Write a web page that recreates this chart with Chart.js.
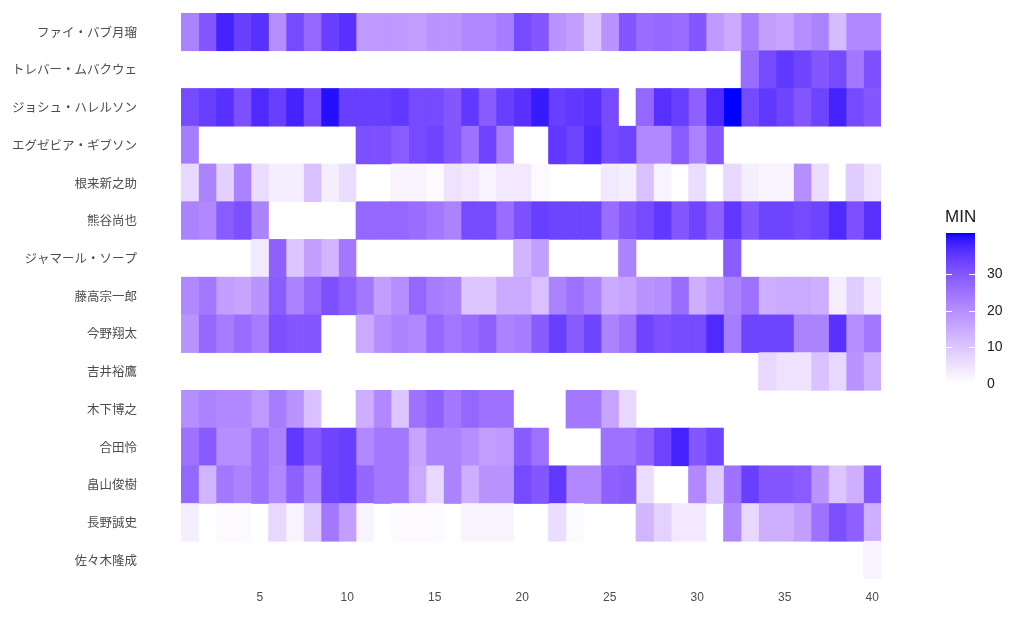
<!DOCTYPE html>
<html lang="ja">
<head>
<meta charset="utf-8">
<title>MIN heatmap</title>
<script src="https://cdn.jsdelivr.net/npm/chart.js@4.4.1/dist/chart.umd.min.js"></script>
<style>
  html, body { margin: 0; padding: 0; background: #fff; }
  #heat { display: block; }
</style>
</head>
<body>
<canvas id="heat" width="1024" height="640"></canvas>
<script>
const _ = null; // did not play

const players = [
  "ファイ・バブ月瑠", "トレバー・ムバクウェ", "ジョシュ・ハレルソン", "エグゼビア・ギブソン",
  "根来新之助", "熊谷尚也", "ジャマール・ソープ", "藤高宗一郎", "今野翔太", "吉井裕鷹",
  "木下博之", "合田怜", "畠山俊樹", "長野誠史", "佐々木隆成"
];

const games = [1, 2, 3, 4, 5, 6, 7, 8, 9, 10, 11, 12, 13, 14, 15, 16, 17, 18, 19, 20,
  21, 22, 23, 24, 25, 26, 27, 28, 29, 30, 31, 32, 33, 34, 35, 36, 37, 38, 39, 40];

const xTicks = [5, 10, 15, 20, 25, 30, 35, 40];
const legendTicks = [0, 10, 20, 30];

// minutes per game, one array per player
const fab = [22, 30, 38, 34, 36, 20, 32, 27, 34, 36, 18, 18, 18, 17, 19, 19, 21, 21, 23, 32,
  30, 19, 17, 10, 19, 30, 26, 27, 26, 30, 18, 15, 23, 17, 16, 20, 22, 12, 21, 21];
const trevor = [_, _, _, _, _, _, _, _, _, _, _, _, _, _, _, _, _, _, _, _,
  _, _, _, _, _, _, _, _, _, _, _, _, 26, 32, 35, 33, 30, 32, 24, 31];
const josh = [32, 34, 36, 31, 37, 34, 38, 32, 40, 34, 34, 34, 35, 32, 32, 30, 35, 29, 34, 36,
  39, 34, 35, 36, 32, _, 27, 36, 34, 28, 37, 41, 32, 35, 33, 30, 33, 38, 32, 30];
const xavier = [23, _, _, _, _, _, _, _, _, _, 31, 31, 29, 32, 33, 30, 25, 33, 23, _,
  _, 35, 33, 37, 32, 33, 21, 21, 29, 22, 30, _, _, _, _, _, _, _, _, _];
const negoro = [7, 22, 8, 22, 6, 3, 3, 11, 3, 6, _, _, 2, 2, 1, 5, 4, 2, 4, 4,
  1, _, _, _, 4, 3, 11, 2, _, 6, _, 7, 3, 2, 2, 20, 6, _, 9, 5];
const kumagai = [22, 21, 29, 31, 22, _, _, _, _, _, 27, 27, 27, 26, 24, 22, 32, 32, 26, 31,
  34, 33, 33, 33, 26, 30, 32, 35, 30, 33, 28, 35, 30, 33, 33, 32, 33, 37, 31, 36];
const jamal = [_, _, _, _, 4, 28, 10, 17, 13, 24, _, _, _, _, _, _, _, _, _, 13,
  17, _, _, _, _, 22, _, _, _, _, _, 29, _, _, _, _, _, _, _, _];
const fujitaka = [21, 24, 17, 16, 19, 29, 22, 27, 31, 28, 24, 17, 20, 27, 23, 22, 10, 10, 15, 15,
  11, 22, 25, 22, 15, 16, 19, 20, 26, 14, 18, 22, 25, 14, 15, 15, 14, 3, 9, 4];
const konno = [19, 27, 23, 26, 23, 31, 30, 30, _, _, 15, 20, 22, 21, 27, 24, 26, 28, 22, 23,
  29, 34, 29, 33, 22, 25, 33, 31, 32, 32, 37, 23, 33, 33, 33, 22, 22, 36, 20, 24];
const yoshii = [_, _, _, _, _, _, _, _, _, _, _, _, _, _, _, _, _, _, _, _,
  _, _, _, _, _, _, _, _, _, _, _, _, _, 7, 5, 5, 11, 7, 19, 14];
const kinoshita = [20, 22, 21, 21, 18, 23, 19, 11, _, _, 14, 21, 10, 25, 28, 24, 27, 25, 25, _,
  _, _, 24, 24, 16, 7, _, _, _, _, _, _, _, _, _, _, _, _, _, _];
const goda = [25, 29, 20, 20, 25, 22, 35, 30, 33, 34, 21, 24, 24, 16, 22, 22, 20, 17, 18, 29,
  25, _, _, _, 25, 25, 28, 33, 38, 30, 33, _, _, _, _, _, _, _, _, _];
const hatakeyama = [27, 13, 24, 22, 25, 21, 28, 22, 33, 34, 27, 24, 24, 15, 7, 22, 14, 19, 19, 32,
  30, 35, 21, 21, 28, 29, 6, _, _, 21, 9, 25, 34, 30, 30, 29, 19, 10, 14, 30];
const nagano = [3, _, 1, 1, _, 7, 2, 9, 24, 17, 2, _, 1, 1, 1, _, 2, 2, 2, _,
  _, 6, 1, _, _, _, 13, 8, 4, 4, _, 21, 7, 14, 14, 17, 25, 31, 28, 14];
const sasaki = [_, _, _, _, _, _, _, _, _, _, _, _, _, _, _, _, _, _, _, _,
  _, _, _, _, _, _, _, _, _, _, _, _, _, _, _, _, _, _, _, 2];

const rows = [fab, trevor, josh, xavier, negoro, kumagai, jamal, fujitaka, konno, yoshii,
  kinoshita, goda, hatakeyama, nagano, sasaki];

const minLimit = 0;
const maxLimit = Math.max(...rows.flat().filter(v => v !== _));

// white -> blue, interpolated in CIELAB like ggplot's gradient
function toLinear(c) {
  c /= 255;
  return c <= 0.04045 ? c / 12.92 : Math.pow((c + 0.055) / 1.055, 2.4);
}
function fromLinear(c) {
  c = c <= 0.0031308 ? 12.92 * c : 1.055 * Math.pow(c, 1 / 2.4) - 0.055;
  return Math.round(Math.min(1, Math.max(0, c)) * 255);
}
function rgbToLab(rgb) {
  const r = toLinear(rgb[0]), g = toLinear(rgb[1]), b = toLinear(rgb[2]);
  const x = (0.4124 * r + 0.3576 * g + 0.1805 * b) / 0.95047;
  const y = 0.2126 * r + 0.7152 * g + 0.0722 * b;
  const z = (0.0193 * r + 0.1192 * g + 0.9505 * b) / 1.08883;
  const f = t => t > 0.008856 ? Math.cbrt(t) : 7.787 * t + 16 / 116;
  return [116 * f(y) - 16, 500 * (f(x) - f(y)), 200 * (f(y) - f(z))];
}
function labToRgb(lab) {
  const fy = (lab[0] + 16) / 116, fx = fy + lab[1] / 500, fz = fy - lab[2] / 200;
  const inv = t => t * t * t > 0.008856 ? t * t * t : (t - 16 / 116) / 7.787;
  const x = inv(fx) * 0.95047, y = inv(fy), z = inv(fz) * 1.08883;
  return [
    fromLinear(3.2406 * x - 1.5372 * y - 0.4986 * z),
    fromLinear(-0.9689 * x + 1.8758 * y + 0.0415 * z),
    fromLinear(0.0557 * x - 0.2040 * y + 1.0570 * z)
  ];
}
const lowLab = rgbToLab([255, 255, 255]);
const highLab = rgbToLab([0, 0, 255]);
function fillFor(v) {
  const t = Math.min(1, Math.max(0, (v - minLimit) / (maxLimit - minLimit)));
  const lab = lowLab.map((l, i) => l + (highLab[i] - l) * t);
  const c = labToRgb(lab);
  return `rgb(${c[0]},${c[1]},${c[2]})`;
}

const datasets = games.map((g, j) => ({
  label: "G" + g,
  data: rows.map(r => (r[j] === _ ? null : [g - 0.5, g + 0.5])),
  backgroundColor: rows.map(r => (r[j] === _ ? "rgba(0,0,0,0)" : fillFor(r[j]))),
  borderWidth: 0,
  grouped: false,
  barPercentage: 1,
  categoryPercentage: 1
}));

// colour bar legend drawn next to the plot
const colourBar = {
  id: "colourBar",
  afterDraw(chart) {
    const ctx = chart.ctx;
    const barX = 946, barW = 29, base = 384, unit = 3.67;
    const top = base - maxLimit * unit;
    ctx.save();
    for (let y = Math.floor(top); y < base; y++) {
      ctx.fillStyle = fillFor((base - y - 0.5) / unit);
      ctx.fillRect(barX, y, barW, 1);
    }
    ctx.strokeStyle = "#fff";
    ctx.lineWidth = 1;
    ctx.fillStyle = "#1a1a1a";
    ctx.font = "14px 'Liberation Sans', Arial, sans-serif";
    ctx.textAlign = "left";
    ctx.textBaseline = "middle";
    legendTicks.forEach(v => {
      const y = Math.round(base - v * unit) + 0.5;
      ctx.beginPath();
      ctx.moveTo(barX, y); ctx.lineTo(barX + 6, y);
      ctx.moveTo(barX + barW - 6, y); ctx.lineTo(barX + barW, y);
      ctx.stroke();
      ctx.fillText(String(v), 987, y);
    });
    ctx.font = "17px 'Liberation Sans', Arial, sans-serif";
    ctx.textBaseline = "alphabetic";
    ctx.fillText("MIN", 945, 222);
    ctx.restore();
  }
};

new Chart("heat", {
  type: "bar",
  data: { labels: players, datasets: datasets },
  options: {
    indexAxis: "y",
    responsive: false,
    animation: false,
    devicePixelRatio: 1,
    layout: { padding: { left: 0, right: 143, top: 13, bottom: 0 } },
    plugins: {
      legend: { display: false },
      tooltip: { enabled: false }
    },
    scales: {
      x: {
        type: "linear",
        min: 0.5,
        max: 40.5,
        grid: { display: false, drawTicks: false },
        border: { display: false },
        afterBuildTicks: axis => { axis.ticks = xTicks.map(v => ({ value: v })); },
        afterFit: axis => { axis.height = 61; },
        ticks: {
          padding: 11,
          color: "#4d4d4d",
          font: { family: "'Liberation Sans', Arial, sans-serif", size: 12 }
        }
      },
      y: {
        type: "category",
        grid: { display: false, drawTicks: false },
        border: { display: false },
        afterFit: axis => {
          axis.width = 181;
          // the wide label gap must not push the plot down
          axis.paddingTop = 0;
          axis.paddingBottom = 0;
        },
        ticks: {
          padding: 44,
          color: "#4d4d4d",
          font: { family: "'Noto Sans CJK JP', sans-serif", size: 12.5 }
        }
      }
    }
  },
  plugins: [colourBar]
});
</script>
</body>
</html>
